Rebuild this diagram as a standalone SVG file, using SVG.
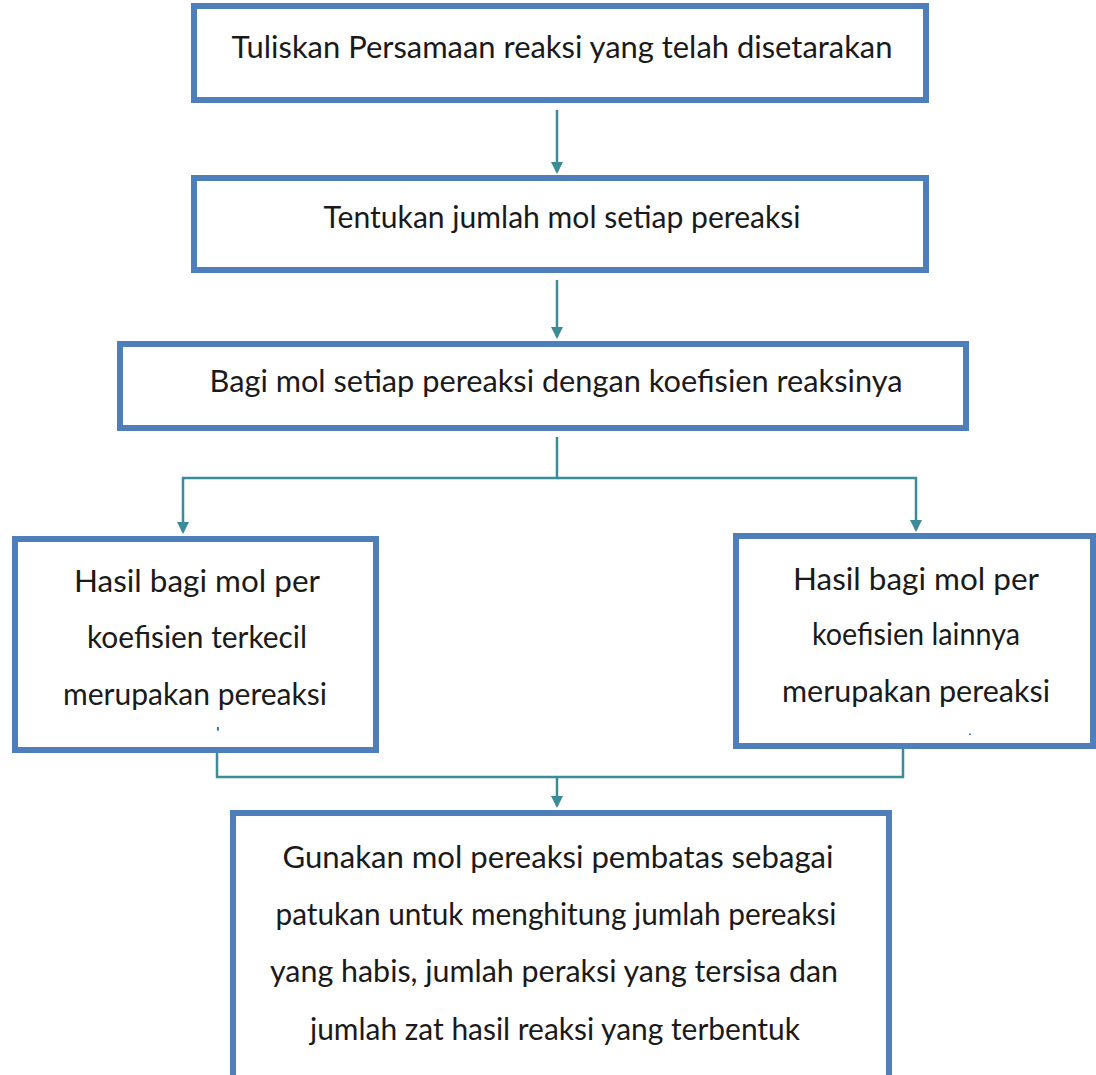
<svg xmlns="http://www.w3.org/2000/svg" width="1096" height="1075" viewBox="0 0 1096 1075">
<defs>
<style>
.box{fill:#ffffff;stroke:#4f7fba;stroke-width:6}
.t{font-family:Lato,"Open Sans","Liberation Sans",sans-serif;font-size:30px;fill:#1a1a1a;text-anchor:middle}
.c{fill:none;stroke:#3b8b98;stroke-width:2.5}
</style>
<marker id="ah" markerWidth="12" markerHeight="12" refX="10" refY="6" orient="auto" markerUnits="userSpaceOnUse">
<path d="M0,0 L12,6 L0,12 z" fill="#3b8b98"/>
</marker>
</defs>
<rect width="1096" height="1075" fill="#ffffff"/>
<g id="connectors">
<line class="c" x1="557" y1="110" x2="557" y2="172" marker-end="url(#ah)"/>
<line class="c" x1="557" y1="280" x2="557" y2="337" marker-end="url(#ah)"/>
<polyline class="c" points="557,437 557,478 183,478 183,532" marker-end="url(#ah)"/>
<polyline class="c" points="557,478 916,478 916,530" marker-end="url(#ah)"/>
<polyline class="c" points="217,753 217,777 903,777 903,749"/>
<line class="c" x1="557" y1="777" x2="557" y2="806" marker-end="url(#ah)"/>
</g>
<g id="node1">
<rect class="box" x="194" y="6" width="732" height="94"/>
<text class="t" x="562" y="58" textLength="661" lengthAdjust="spacingAndGlyphs">Tuliskan Persamaan reaksi yang telah disetarakan</text>
</g>
<g id="node2">
<rect class="box" x="194" y="178" width="732" height="92"/>
<text class="t" x="562" y="228" textLength="477" lengthAdjust="spacingAndGlyphs">Tentukan jumlah mol setiap pereaksi</text>
</g>
<g id="node3">
<rect class="box" x="120" y="344" width="846" height="84"/>
<text class="t" x="556" y="392" textLength="693" lengthAdjust="spacingAndGlyphs">Bagi mol setiap pereaksi dengan koefisien reaksinya</text>
</g>
<g id="node4">
<rect class="box" x="15" y="539" width="361" height="211"/>
<text class="t" x="197" y="592" textLength="246" lengthAdjust="spacingAndGlyphs">Hasil bagi mol per</text>
<text class="t" x="197" y="648" textLength="220" lengthAdjust="spacingAndGlyphs">koefisien terkecil</text>
<text class="t" x="195" y="705" textLength="264" lengthAdjust="spacingAndGlyphs">merupakan pereaksi</text>
<text class="t" x="218" y="738" style="font-size:16px">'</text>
</g>
<g id="node5">
<rect class="box" x="736" y="536" width="357" height="210"/>
<text class="t" x="916" y="590" textLength="246" lengthAdjust="spacingAndGlyphs">Hasil bagi mol per</text>
<text class="t" x="916" y="645" textLength="208" lengthAdjust="spacingAndGlyphs">koefisien lainnya</text>
<text class="t" x="916" y="702" textLength="268" lengthAdjust="spacingAndGlyphs">merupakan pereaksi</text>
<text class="t" x="970" y="735" style="font-size:12px">.</text>
</g>
<g id="node6">
<rect class="box" x="233" y="813" width="656" height="280"/>
<text class="t" x="558" y="868" textLength="551" lengthAdjust="spacingAndGlyphs">Gunakan mol pereaksi pembatas sebagai</text>
<text class="t" x="556" y="925" textLength="561" lengthAdjust="spacingAndGlyphs">patukan untuk menghitung jumlah pereaksi</text>
<text class="t" x="554" y="982" textLength="568" lengthAdjust="spacingAndGlyphs">yang habis, jumlah peraksi yang tersisa dan</text>
<text class="t" x="555" y="1040" textLength="490" lengthAdjust="spacingAndGlyphs">jumlah zat hasil reaksi yang terbentuk</text>
</g>
</svg>
